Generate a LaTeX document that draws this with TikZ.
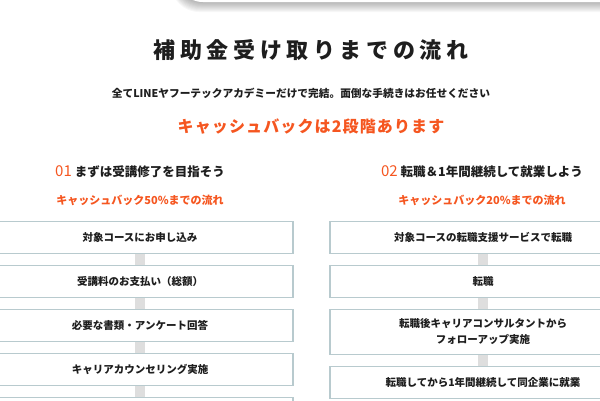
\documentclass[tikz,border=0pt]{standalone}
\usepackage{fontspec}
\setmainfont{Noto Sans CJK JP}
\usetikzlibrary{positioning}

\definecolor{accent}{RGB}{245,86,32}
\definecolor{ink}{RGB}{30,30,30}
\definecolor{boxline}{RGB}{184,202,206}
\definecolor{linkgray}{RGB}{222,222,222}

\tikzset{
  stepbox/.style={draw=boxline, line width=1.5pt, fill=white, minimum width=306pt,
    minimum height=32pt, inner sep=2pt, align=center, text=ink,
    font=\bfseries\fontsize{10.5}{16}\selectfont},
  link/.style={draw=linkgray, line width=10pt},
  head/.style={font=\bfseries\fontsize{12.5}{16}\selectfont, text=ink},
  rate/.style={font=\bfseries\fontsize{11}{14}\selectfont, text=accent}
}

\begin{document}
\begin{tikzpicture}[x=1pt,y=-1pt,node distance=10.5pt]
  \useasboundingbox (0,0) rectangle (600,400);
  \clip (0,0) rectangle (600,400);
  % card at the top, with its shadow
  \foreach \k in {1,...,10}
    \fill[black,opacity=0.03,rounded corners=28pt] ({175-0.4*\k},-60) -- ({175-0.4*\k},{2+\k}) -- (640,{2+\k}) -- (640,-60) -- cycle;
  \fill[white,rounded corners=28pt] (175,-60) -- (175,2) -- (640,2) -- (640,-60) -- cycle;

  \node[text=ink,font=\bfseries\fontsize{22}{26}\selectfont\addfontfeatures{LetterSpace=21}] (T) at (311,50) {補助金受け取りまでの流れ};
  \node[text=ink,font=\bfseries\fontsize{10.7}{14}\selectfont] (S) at (301,93) {全てLINEヤフーテックアカデミーだけで完結。面倒な手続きはお任せください};
  \node[text=accent,font=\bfseries\fontsize{16}{20}\selectfont\addfontfeatures{LetterSpace=7}] (C) at (311,127) {キャッシュバックは2段階あります};

  \node[head] (H1) at (140,172) {\textcolor{accent}{\mdseries\fontsize{15}{16}\selectfont 01} まずは受講修了を目指そう};
  \node[rate] (P1) at (140,200) {キャッシュバック50\%までの流れ};
  \node[head] (H2) at (482,172) {\textcolor{accent}{\mdseries\fontsize{15}{16}\selectfont 02} 転職＆1年間継続して就業しよう};
  \node[rate] (P2) at (482,200) {キャッシュバック20\%までの流れ};

  % left flow
  \node[stepbox] (L1) at (140,237.5) {対象コースにお申し込み};
  \node[stepbox,below=of L1] (L2) {受講料のお支払い（総額）};
  \node[stepbox,below=of L2] (L3) {必要な書類・アンケート回答};
  \node[stepbox,below=of L3] (L4) {キャリアカウンセリング実施};
  \node[stepbox,below=of L4] (L5) {};
  % right flow
  \node[stepbox] (R1) at (483,237.5) {対象コースの転職支援サービスで転職};
  \node[stepbox,below=of R1] (R2) {転職};
  \node[stepbox,below=of R2,minimum height=45pt] (R3) {転職後キャリアコンサルタントから\\フォローアップ実施};
  \node[stepbox,below=of R3] (R4) {転職してから1年間継続して同企業に就業};

  \foreach \a/\b in {L1/L2,L2/L3,L3/L4,L4/L5,R1/R2,R2/R3,R3/R4}
    \draw[link] (\a.south) -- (\b.north);
\end{tikzpicture}
\end{document}
